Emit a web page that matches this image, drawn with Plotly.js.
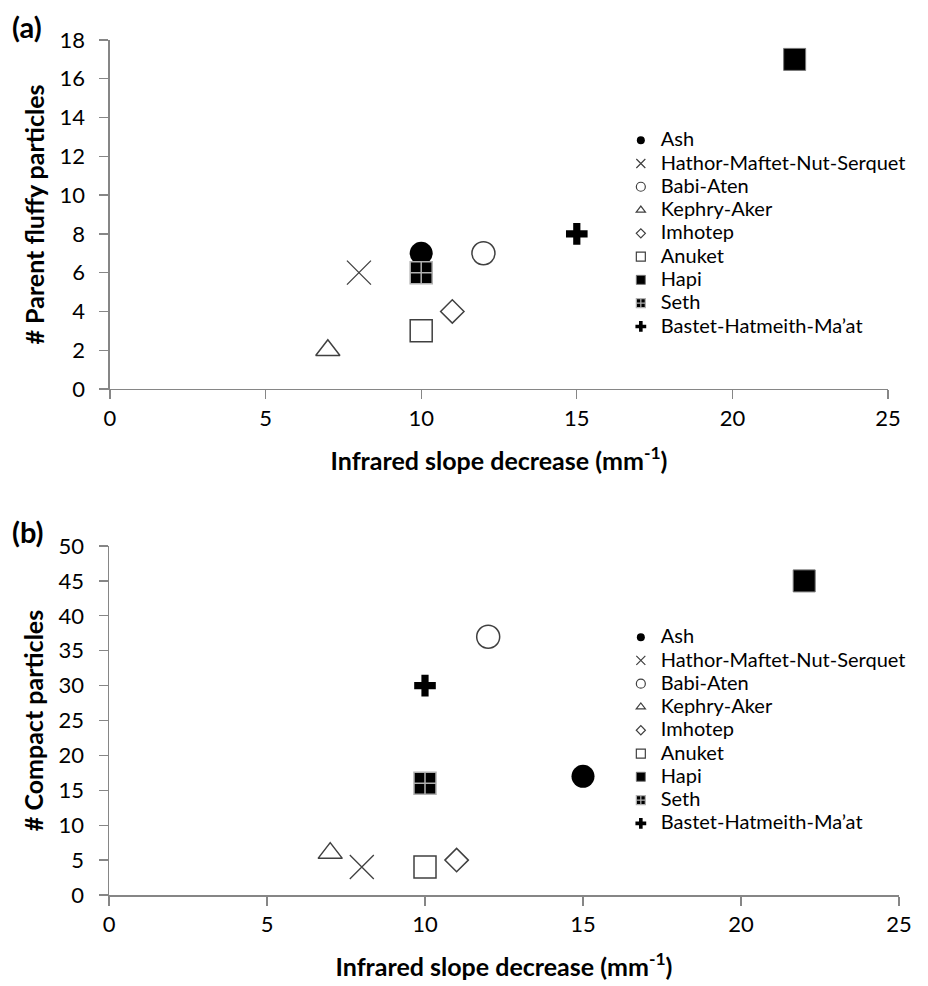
<!DOCTYPE html>
<html><head><meta charset="utf-8">
<script src="https://cdn.plot.ly/plotly-3.0.1.min.js"></script>
<style>
body{margin:0;padding:0;background:#fff}
#chart{width:928px;height:986px}
.legendtext, .legend2text{font-size:20px !important;}
</style>
</head><body><div id="chart"></div>
<script>
// Data
const seriesNames = ['Ash','Hathor-Maftet-Nut-Serquet','Babi-Aten','Kephry-Aker','Imhotep','Anuket','Hapi','Seth','Bastet-Hatmeith-Ma\u2019at'];
const slopeA   = [10, 8, 12, 7, 11, 10, 22, 10, 15];
const fluffyA  = [7, 6, 7, 2, 4, 3, 17, 6, 8];
const slopeB   = [15, 8, 12, 7, 11, 10, 22, 10, 10];
const compactB = [17, 4, 37, 6, 5, 4, 45, 16, 30];
const xTicks  = [0, 5, 10, 15, 20, 25];
const yTicksA = [0, 2, 4, 6, 8, 10, 12, 14, 16, 18];
const yTicksB = [0, 5, 10, 15, 20, 25, 30, 35, 40, 45, 50];

// Styles
const GRAY = '#404040';
const styles = [
  {symbol:'circle', size:23, color:'#000', line:{width:0}},
  {symbol:'x-thin-open', size:24, color:GRAY, line:{width:1.3, color:GRAY}},
  {symbol:'circle-open', size:23, color:GRAY, line:{width:1.5, color:GRAY}},
  {symbol:'triangle-up-open', size:21, color:GRAY, line:{width:1.5, color:GRAY}},
  {symbol:'diamond-open', size:18, color:GRAY, line:{width:1.5, color:GRAY}},
  {symbol:'square-open', size:22, color:GRAY, line:{width:1.5, color:GRAY}},
  {symbol:'square', size:22, color:'#000', line:{width:1, color:'#777'}},
  {symbol:'square-cross', size:22, color:'#000', line:{width:1.5, color:'#b0b0b0'}},
  {symbol:'cross', size:18, color:'#000', line:{width:0}}
];
const legendSizes = [8, 9, 9, 8, 7, 9, 9, 9, 9];

const traces = [];
function addPanel(xs, ys, xa, ya, legendId) {
  seriesNames.forEach((name, i) => {
    traces.push({
      type:'scatter', mode:'markers', name:name, x:[xs[i]], y:[ys[i]],
      xaxis:xa, yaxis:ya, showlegend:false, cliponaxis:false,
      marker:Object.assign({}, styles[i], {line:Object.assign({}, styles[i].line)}),
      hoverinfo:'skip'
    });
  });
  seriesNames.forEach((name, i) => {
    const lm = Object.assign({}, styles[i], {size: legendSizes[i]});
    lm.line = Object.assign({}, styles[i].line);
    if (lm.line.width > 1.2) lm.line.width = 1.2;
    traces.push({
      type:'scatter', mode:'markers', name:name, x:[null], y:[null],
      xaxis:xa, yaxis:ya, showlegend:true, legend:legendId, marker:lm
    });
  });
}
addPanel(slopeA, fluffyA, 'x', 'y', 'legend');
addPanel(slopeB, compactB, 'x2', 'y2', 'legend2');

const FONT = 'Lato, "Open Sans", sans-serif';
const AXC = '#868686';
function xAxis(domain, anchor) {
  return {
    domain:domain, anchor:anchor, range:[0,25], autorange:false, tickvals:xTicks,
    ticks:'outside', ticklen:9, tickwidth:1.3, tickcolor:AXC,
    showline:true, linecolor:AXC, linewidth:1.5, showgrid:false, zeroline:false,
    tickfont:{family:FONT, size:22, color:'#000'},
    title:{text:'<b>Infrared slope decrease (mm<sup>-1</sup>)</b>', font:{family:FONT, size:25, color:'#000'}, standoff:22},
    fixedrange:true
  };
}
function yAxis(domain, anchor, range, ticks, title) {
  return {
    domain:domain, anchor:anchor, range:range, autorange:false, tickvals:ticks,
    ticks:'outside', ticklen:9, tickwidth:1.3, tickcolor:AXC, ticklabelstandoff:10,
    showline:true, linecolor:AXC, linewidth:1.5, showgrid:false, zeroline:false,
    tickfont:{family:FONT, size:22, color:'#000'},
    title:{text:'<b>'+title+'</b>', font:{family:FONT, size:25, color:'#000'}, standoff:8},
    fixedrange:true
  };
}

const layout = {
  width:928, height:986,
  margin:{l:0, r:0, t:0, b:0},
  paper_bgcolor:'#fff', plot_bgcolor:'#fff',
  font:{family:FONT, color:'#000'},
  xaxis: xAxis([0.11853, 0.95690], 'y'),
  yaxis: yAxis([0.60548, 0.95943], 'x', [0,18], yTicksA, '# Parent fluffy particles'),
  xaxis2: xAxis([0.11746, 0.96875], 'y2'),
  yaxis2: yAxis([0.09229, 0.44625], 'x2', [0,50], yTicksB, '# Compact particles'),
  legend:{x:0.669, xanchor:'left', y:0.8747, yanchor:'top', bgcolor:'rgba(0,0,0,0)', borderwidth:0,
    font:{family:FONT, size:15.6, color:'#000'}, tracegroupgap:0},
  legend2:{x:0.669, xanchor:'left', y:0.3707, yanchor:'top', bgcolor:'rgba(0,0,0,0)', borderwidth:0,
    font:{family:FONT, size:15.6, color:'#000'}, tracegroupgap:0},
  annotations:[
    {text:'<b>(a)</b>', xref:'paper', yref:'paper', x:10/928, y:1-26/986, xanchor:'left', yanchor:'middle', showarrow:false, font:{family:FONT, size:29, color:'#000'}},
    {text:'<b>(b)</b>', xref:'paper', yref:'paper', x:10/928, y:1-531/986, xanchor:'left', yanchor:'middle', showarrow:false, font:{family:FONT, size:29, color:'#000'}}
  ],
  showlegend:true
};

Plotly.newPlot('chart', traces, layout, {staticPlot:true, displayModeBar:false});
</script>
</body></html>
